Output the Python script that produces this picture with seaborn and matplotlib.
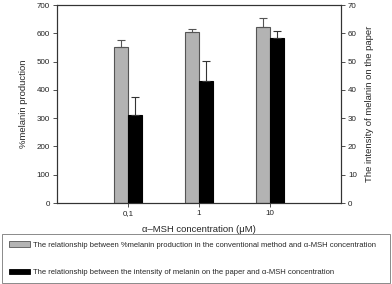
import matplotlib
matplotlib.use("Agg")
import matplotlib.pyplot as plt
import seaborn as sns
import pandas as pd
import numpy as np
from matplotlib.patches import Patch

categories = ["0,1", "1", "10"]
conv_values = [550, 605, 622]
conv_err = [25, 10, 31]
paper_values = [31.0, 43.1, 58.2]
paper_err = [6.5, 7.2, 2.5]
series = ["The relationship between %melanin production in the conventional method and \u03b1-MSH concentration",
          "The relationship between the intensity of melanin on the paper and \u03b1-MSH concentration"]
colors = ["#b3b3b3", "#000000"]

sns.set_style("white")
plt.rcParams['font.family'] = ['Liberation Sans', 'DejaVu Sans']

fig = plt.figure(figsize=(3.92, 2.84), dpi=100)
ax = fig.add_axes([57/392, 1 - 203/284, 284/392, 198/284])
ax2 = ax.twinx()

df1 = pd.DataFrame({"conc": categories, "val": conv_values, "series": series[0]})
df2 = pd.DataFrame({"conc": categories, "val": paper_values, "series": series[1]})
pal = dict(zip(series, colors))

sns.barplot(data=df1, x="conc", y="val", hue="series", hue_order=series, palette=pal,
            order=categories, width=0.4, dodge=True, ax=ax, legend=False,
            edgecolor="#555555", linewidth=0.8, saturation=1)
sns.barplot(data=df2, x="conc", y="val", hue="series", hue_order=series, palette=pal,
            order=categories, width=0.4, dodge=True, ax=ax2, legend=False,
            edgecolor="#000000", linewidth=0.8, saturation=1)

def add_err(axis, vals, errs, color):
    bars = [p for p in axis.patches if p.get_height() > 0]
    bars = sorted(bars, key=lambda p: p.get_x())
    xs = [p.get_x() + p.get_width() / 2 for p in bars]
    axis.errorbar(xs, vals, yerr=[np.zeros(len(errs)), errs], fmt="none",
                  ecolor=color, elinewidth=0.8, capsize=3, capthick=0.8)

add_err(ax, conv_values, conv_err, "#555555")
add_err(ax2, paper_values, paper_err, "#333333")

ax.set_xlim(-1, 3)
ax.set_ylim(0, 700)
ax2.set_ylim(0, 70)
ax.set_yticks(range(0, 701, 100))
ax2.set_yticks(range(0, 71, 10))
ax.set_xlabel("\u03b1\u2013MSH concentration (\u03bcM)", fontsize=6.8, labelpad=6)
ax.set_ylabel("%melanin production", fontsize=6.8, labelpad=6)
ax2.set_ylabel("The intensity of melanin on the paper", fontsize=6.8, labelpad=6)
for a in (ax, ax2):
    a.tick_params(axis="both", labelsize=5.8, length=3, width=0.6, direction="out",
                  colors="#333333", pad=2)
    a.tick_params(axis="both", labelcolor="#222222")
    for s in a.spines.values():
        s.set_linewidth(0.8)
        s.set_color("#333333")
ax.tick_params(axis="x", bottom=True)
ax.tick_params(axis="y", left=True)
ax2.tick_params(axis="y", right=True)

handles = [Patch(facecolor=colors[0], edgecolor="#555555", linewidth=0.6),
           Patch(facecolor=colors[1], edgecolor="#000000", linewidth=0.6)]
leg = fig.legend(handles, series, loc="lower left", bbox_to_anchor=(2/392, 1/284, 388/392, 51/284),
                 mode="expand", fontsize=5.5, frameon=True, fancybox=False, borderpad=0.9,
                 labelspacing=2.6, handlelength=2.8, handleheight=0.8, handletextpad=0.4,
                 borderaxespad=0)
leg.get_frame().set_edgecolor("#555555")
leg.get_frame().set_linewidth(0.6)

fig.savefig("out.png", dpi=100)
